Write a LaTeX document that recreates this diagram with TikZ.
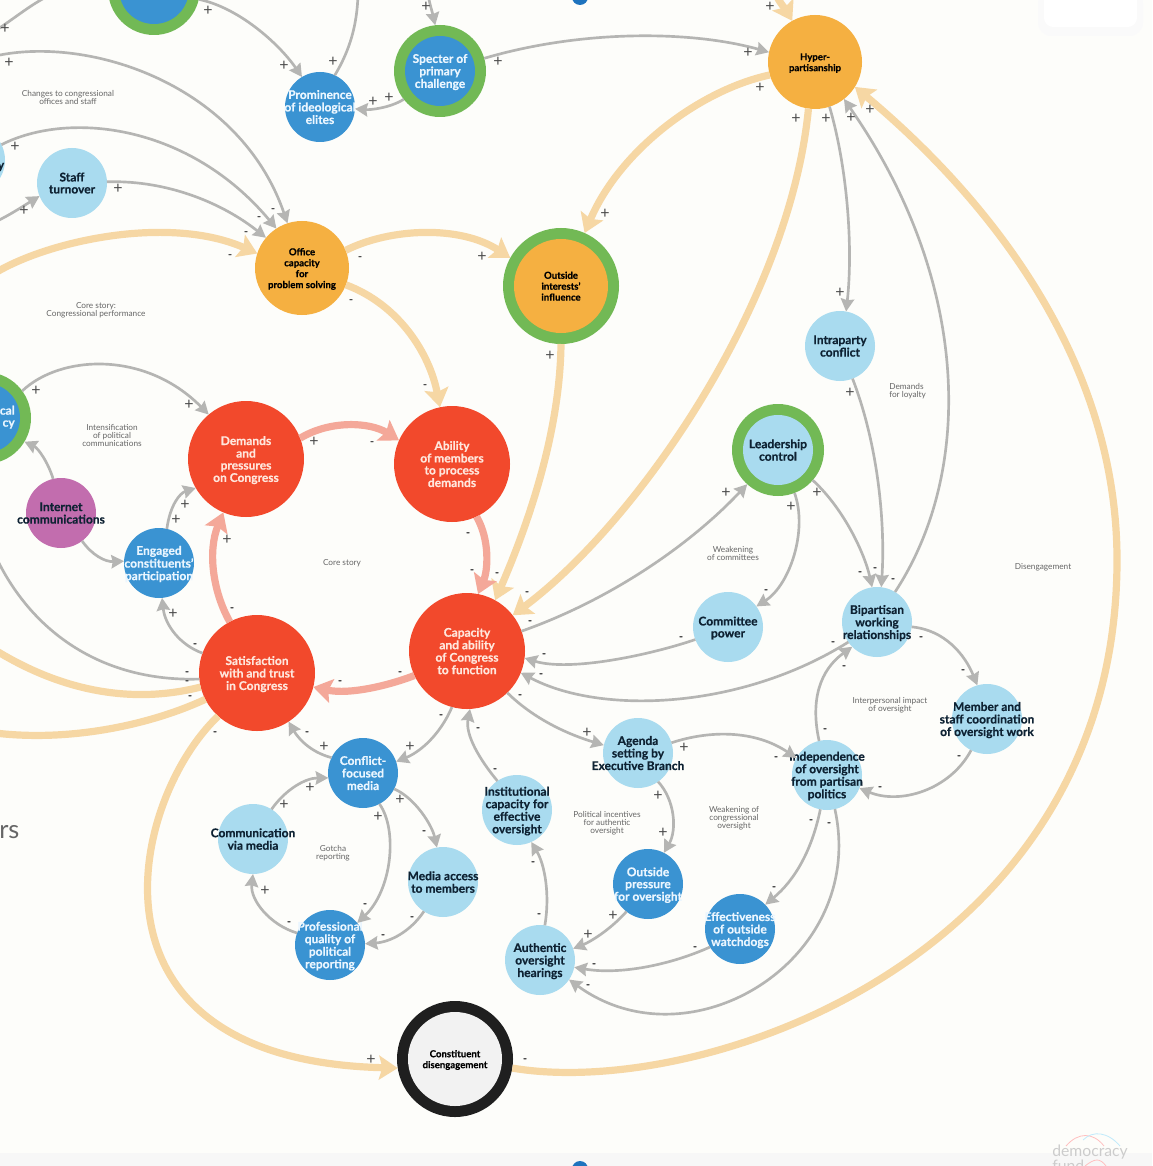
\documentclass[tikz,border=0pt]{standalone}
\usepackage{fontspec}
\setmainfont{Lato}[BoldFeatures={FakeBold=0.5}]
\usetikzlibrary{arrows.meta}
\definecolor{bgc}{HTML}{FDFDFA}
\definecolor{redc}{HTML}{F2492C}
\definecolor{orangec}{HTML}{F5B041}
\definecolor{lightc}{HTML}{A9DBEF}
\definecolor{bluec}{HTML}{3A93D2}
\definecolor{greenc}{HTML}{72B955}
\definecolor{purplec}{HTML}{C26DAE}
\definecolor{grayc}{HTML}{B5B5B3}
\definecolor{tanc}{HTML}{F6D7A4}
\definecolor{salmonc}{HTML}{F4A899}
\definecolor{darkc}{HTML}{0E2233}
\definecolor{lighttxt}{HTML}{EAF6FF}
\definecolor{redtxt}{HTML}{FFE6DC}
\definecolor{dotc}{HTML}{1E73BE}
\newcommand\ntxt[1]{\makebox[0pt]{\smash{\raisebox{-.4em}{\begin{tabular}{@{}c@{}}#1\end{tabular}}}}}
\newcommand\bigt{\fontsize{9}{9}\selectfont\bfseries}
\newcommand\smallt{\fontsize{7.2}{8.2}\selectfont\bfseries}
\newcommand\capt{\fontsize{6.2}{6}\selectfont}
\newcounter{sg}
\newcommand\sg[2]{\stepcounter{sg}\if#2+\def\sgfont{\fontsize{12}{12}\selectfont}\else\def\sgfont{\fontsize{8}{8}\selectfont\bfseries}\fi\node[signlab,font=\sgfont] (sg\arabic{sg}) at (#1) {#2};}
\tikzset{
 base/.style={circle,inner sep=0pt,outer sep=0pt,minimum size=#1*.75pt},
 nlight/.style={base=70,fill=lightc,text=darkc,font=\bigt},
 nblue/.style={base=70,fill=bluec,text=lighttxt,font=\bigt},
 npurple/.style={base=70,fill=purplec,text=darkc,font=\bigt},
 nred/.style={base=116,fill=redc,text=redtxt,font=\bigt},
 norange/.style={base=94,fill=orangec,text=black,font=\smallt},
 ringed/.style 2 args={base=92,fill=greenc,text=#2,font=\bigt,path picture={\fill[#1] (path picture bounding box.center) circle (35*.75pt);}},
 bigring/.style={base=116,fill=greenc,text=black,font=\smallt,path picture={\fill[orangec] (path picture bounding box.center) circle (47*.75pt);}},
 blackring/.style={base=116,fill=black!88,text=black,font=\smallt,path picture={\fill[black!5] (path picture bounding box.center) circle (47*.75pt);}},
 gl/.style={draw=grayc,line width=2pt,-{Stealth[length=9.5pt,width=10pt,inset=1pt]}},
 glp/.style={draw=grayc,line width=2pt},
 tl/.style={draw=tanc,line width=5.4pt,-{Stealth[length=14pt,width=18pt,inset=2.5pt]}},
 tlp/.style={draw=tanc,line width=5.4pt},
 sl/.style={draw=salmonc,line width=5.4pt,-{Stealth[length=14pt,width=18pt,inset=2.5pt]}},
 signlab/.style={inner sep=0pt,text=black!70},
 captxt/.style={inner sep=0pt,align=center,text=black!60,font=\capt},
}
\begin{document}
\begin{tikzpicture}[x=.75pt,y=-.75pt]
\clip (0,0) rectangle (1152,1166);
\fill[bgc] (0,0) rectangle (1152,1166);
\fill[black!3] (0,1153) rectangle (1152,1166);
% window furniture
\fill[black!2,rounded corners=10pt] (1038,-10) rectangle (1143,36);
\fill[white,rounded corners=7pt] (1044,-10) rectangle (1137,27);
\node[circle,fill=dotc,minimum size=12pt,inner sep=0pt] (dottop) at (580,-3) {};
\node[circle,fill=dotc,minimum size=12pt,inner sep=0pt] (dotbot) at (580,1169) {};
% free ends
\coordinate (f1) at (-5,56); \coordinate (f2) at (-5,222); \coordinate (f3) at (358,-5);
\coordinate (f4) at (428,-5); \coordinate (f5) at (776,-5); \coordinate (f6) at (-5,273);
\coordinate (f7) at (-5,555); \coordinate (f8) at (-5,650); \coordinate (f9) at (-5,733);
\coordinate (f10) at (-5,31); \coordinate (f11) at (50,-5);
% nodes
\node[ringed={bluec}{lighttxt}] (topn) at (154,-11) {};
\node[nblue] (prom) at (320,107) {\ntxt{Prominence\\of ideological\\elites}};
\node[ringed={bluec}{lighttxt}] (spec) at (440,71) {\ntxt{Specter of\\primary\\challenge}};
\node[norange] (hyper) at (815,62) {\ntxt{Hyper-\\partisanship}};
\node[nlight] (lefttop) at (-30,160) {};
\node[nlight] (staff) at (72,183) {\ntxt{Staff\\turnover}};
\node[norange] (office) at (302,268) {\ntxt{Office\\capacity\\for\\problem solving}};
\node[bigring] (outint) at (561,286) {\ntxt{Outside\\interests'\\influence}};
\node[nlight] (intra) at (840,346) {\ntxt{Intraparty\\conflict}};
\node[ringed={lightc}{darkc}] (lead) at (778,450) {\ntxt{Leadership\\control}};
\node[nred] (dem) at (246,459) {\ntxt{Demands\\and\\pressures\\on Congress}};
\node[nred] (abil) at (452,464) {\ntxt{Ability\\of members\\to process\\demands}};
\node[nred] (cap) at (467,651) {\ntxt{Capacity\\and ability\\of Congress\\to function}};
\node[nred] (sat) at (257,673) {\ntxt{Satisfaction\\with and trust\\in Congress}};
\node[ringed={bluec}{lighttxt}] (leftpol) at (-15,418) {};
\node[npurple] (inet) at (61,513) {\ntxt{Internet\\communications}};
\node[nblue] (eng) at (159,563) {\ntxt{Engaged\\constituents'\\participation}};
\node[nblue] (conf) at (363,773) {\ntxt{Conflict-\\focused\\media}};
\node[nlight] (comm) at (253,839) {\ntxt{Communication\\via media}};
\node[nlight] (macc) at (443,882) {\ntxt{Media access\\to members}};
\node[nblue] (prof) at (330,945) {\ntxt{Professional\\quality of\\political\\reporting}};
\node[nlight] (inst) at (517,810) {\ntxt{Institutional\\capacity for\\effective\\oversight}};
\node[nlight] (agen) at (638,753) {\ntxt{Agenda\\setting by\\Executive Branch}};
\node[nblue] (outp) at (648,884) {\ntxt{Outside\\pressure\\for oversight}};
\node[nblue] (eff) at (740,929) {\ntxt{Effectiveness\\of outside\\watchdogs}};
\node[nlight] (auth) at (540,960) {\ntxt{Authentic\\oversight\\hearings}};
\node[nlight] (indep) at (827,775) {\ntxt{Independence\\of oversight\\from partisan\\politics}};
\node[nlight] (cpow) at (728,627) {\ntxt{Committee\\power}};
\node[nlight] (bip) at (877,622) {\ntxt{Bipartisan\\working\\relationships}};
\node[nlight] (memb) at (987,719) {\ntxt{Member and\\staff coordination\\of oversight work}};
\node[blackring] (cons) at (455,1059) {\ntxt{Constituent\\disengagement}};
\node[inner sep=0pt,text=lighttxt,font=\bigt,anchor=east] (leftpoltxt) at (15,418) {\begin{tabular}{@{}r@{}}cal\\cy\end{tabular}};
\node[inner sep=0pt,text=darkc,font=\bigt] (lefttoptxt) at (1,167) {y};
% tan
\draw[tl] (f5) .. controls (780,3) and (786,10) .. (hyper.119);
\draw[tl] (hyper.196) .. controls (700,90) and (620,150) .. (outint.66);
\draw[tl] (hyper.262) .. controls (790,300) and (640,520) .. (cap.38);
\draw[tl] (outint.-90) .. controls (560,430) and (530,520) .. (cap.61);
\draw[tl] (cons.-9) .. controls (700,1100) and (1117,960) .. (1117,560) .. controls (1117,360) and (990,200) .. (hyper.-32);
\draw[tl] (sat.228) .. controls (130,800) and (70,1060) .. (cons.189);
\draw[tl] (f6) .. controls (50,240) and (170,215) .. (office.162);
\draw[tl] (office.22) .. controls (390,228) and (460,225) .. (outint.151);
\draw[tl] (office.-21) .. controls (400,305) and (430,355) .. (abil.102);
\draw[tlp] (sat.194) .. controls (130,705) and (60,690) .. (f8);
\draw[tlp] (sat.207) .. controls (150,725) and (70,742) .. (f9);
% salmon
\draw[sl] (dem.21) .. controls (330,420) and (370,422) .. (abil.156);
\draw[sl] (abil.-65) .. controls (490,540) and (488,570) .. (cap.79);
\draw[sl] (cap.205) .. controls (390,685) and (350,695) .. (sat.-14);
\draw[sl] (sat.118) .. controls (212,590) and (208,550) .. (dem.247);
% gray
\draw[gl] (topn.-13) .. controls (240,8) and (280,45) .. (prom.121);
\draw[glp] (prom.65) .. controls (350,50) and (357,25) .. (f3);
\draw[gl] (f4) .. controls (430,5) and (433,15) .. (spec.96);
\draw[gl] (spec.218) .. controls (390,108) and (370,110) .. (prom.-3);
\draw[gl] (spec.16) .. controls (580,30) and (690,30) .. (hyper.168);
\draw[gl] (hyper.-72) .. controls (848,170) and (853,250) .. (intra.80);
\draw[gl] (bip.59) .. controls (975,470) and (970,280) .. (hyper.-52);
\draw[glp] (sat.186) .. controls (100,682) and (30,630) .. (f7);
\draw[gl] (sat.160) .. controls (180,645) and (165,625) .. (eng.-85);
\draw[gl] (eng.77) .. controls (170,505) and (180,493) .. (dem.210);
\draw[gl] (inet.-53) .. controls (92,555) and (105,562) .. (eng.177);
\draw[gl] (inet.103) .. controls (48,462) and (38,448) .. (leftpol.-31);
\draw[gl] (leftpol.36) .. controls (60,355) and (145,350) .. (dem.130);
\draw[gl] (staff.2) .. controls (170,180) and (225,205) .. (office.140);
\draw[gl] (lefttop.26) .. controls (70,110) and (190,125) .. (office.123);
\draw[gl] (f1) .. controls (90,35) and (240,85) .. (office.108);
\draw[glp] (f10) .. controls (15,18) and (30,5) .. (f11);
\draw[gl] (f2) .. controls (10,215) and (25,205) .. (staff.202);
\draw[gl] (cap.20) .. controls (610,600) and (690,545) .. (lead.228);
\draw[gl] (cpow.201) .. controls (650,655) and (570,672) .. (cap.-7);
\draw[gl] (bip.215) .. controls (740,710) and (600,715) .. (cap.-22);
\draw[gl] (lead.-69) .. controls (808,530) and (790,585) .. (cpow.36);
\draw[gl] (lead.-41) .. controls (845,510) and (865,555) .. (bip.98);
\draw[gl] (intra.-69) .. controls (880,450) and (885,530) .. (bip.83);
\draw[gl] (bip.-8) .. controls (945,630) and (965,655) .. (memb.106);
\draw[gl] (memb.243) .. controls (950,790) and (900,805) .. (indep.-22);
\draw[gl] (indep.103) .. controls (810,700) and (820,670) .. (bip.225);
\draw[gl] (agen.17) .. controls (710,730) and (755,730) .. (indep.151);
\draw[gl] (cap.-46) .. controls (535,720) and (570,735) .. (agen.167);
\draw[gl] (cap.255) .. controls (440,735) and (420,752) .. (conf.19);
\draw[gl] (conf.154) .. controls (310,752) and (298,738) .. (sat.-57);
\draw[gl] (comm.58) .. controls (285,790) and (305,778) .. (conf.188);
\draw[gl] (prof.160) .. controls (270,925) and (250,900) .. (comm.-90);
\draw[gl] (conf.-62) .. controls (398,830) and (392,890) .. (prof.39);
\draw[gl] (conf.-27) .. controls (415,798) and (432,825) .. (macc.100);
\draw[gl] (macc.237) .. controls (410,932) and (390,942) .. (prof.2);
\draw[gl] (inst.124) .. controls (480,760) and (465,735) .. (cap.-87);
\draw[gl] (auth.82) .. controls (550,895) and (545,865) .. (inst.-66);
\draw[gl] (agen.-55) .. controls (675,800) and (677,830) .. (outp.63);
\draw[gl] (outp.232) .. controls (610,930) and (590,942) .. (auth.19);
\draw[gl] (eff.211) .. controls (670,965) and (620,975) .. (auth.-12);
\draw[gl] (indep.259) .. controls (812,850) and (795,880) .. (eff.44);
\draw[gl] (indep.-77) .. controls (868,960) and (690,1068) .. (auth.-34);
% signs
\sg{208,11}{+}\sg{284,66}{+}\sg{333,62}{+}\sg{426,7}{+}\sg{389,98}{+}\sg{373,102}{+}
\sg{498,62}{+}\sg{748,53}{+}\sg{770,7}{+}\sg{760,88}{+}\sg{605,214}{+}\sg{796,119}{+}
\sg{527,593}{-}\sg{550,356}{+}\sg{497,574}{-}\sg{826,119}{+}\sg{840,293}{+}\sg{851,118}{+}
\sg{893,580}{-}\sg{870,110}{+}\sg{525,1060}{-}\sg{215,733}{-}\sg{371,1060}{+}\sg{230,256}{-}
\sg{360,258}{-}\sg{482,257}{+}\sg{351,301}{-}\sg{425,386}{-}\sg{314,442}{+}\sg{372,443}{-}
\sg{468,534}{-}\sg{472,571}{-}\sg{400,673}{-}\sg{340,682}{-}\sg{232,609}{-}\sg{227,540}{+}
\sg{187,673}{-}\sg{187,682}{-}\sg{190,697}{-}\sg{195,645}{-}\sg{173,614}{+}\sg{176,520}{+}
\sg{185,505}{+}\sg{36,391}{+}\sg{189,405}{+}\sg{118,189}{+}\sg{246,233}{-}\sg{15,147}{+}
\sg{259,218}{-}\sg{9,63}{+}\sg{273,210}{-}\sg{5,29}{+}\sg{24,211}{+}\sg{530,622}{-}
\sg{726,493}{+}\sg{681,638}{-}\sg{544,655}{-}\sg{833,643}{-}\sg{541,675}{-}\sg{791,507}{+}
\sg{766,591}{-}\sg{817,493}{+}\sg{860,573}{-}\sg{850,393}{+}\sg{875,569}{-}\sg{921,638}{-}
\sg{963,671}{-}\sg{959,757}{-}\sg{880,788}{-}\sg{825,730}{-}\sg{844,667}{-}\sg{684,748}{+}
\sg{776,758}{-}\sg{520,696}{-}\sg{587,733}{+}\sg{441,716}{-}\sg{410,747}{+}\sg{307,733}{-}
\sg{324,747}{+}\sg{284,805}{+}\sg{310,788}{+}\sg{289,923}{-}\sg{265,891}{+}\sg{378,817}{+}
\sg{365,905}{-}\sg{400,800}{+}\sg{424,832}{-}\sg{412,918}{-}\sg{383,936}{-}\sg{478,729}{-}
\sg{495,770}{-}\sg{539,915}{-}\sg{533,863}{-}\sg{658,796}{+}\sg{663,833}{+}\sg{613,916}{+}
\sg{588,935}{+}\sg{695,948}{-}\sg{594,965}{-}\sg{811,821}{-}\sg{774,888}{-}\sg{829,824}{-}
\sg{588,986}{-}
% captions
\node[captxt] (c1) at (68,97) {Changes to congressional\\offices and staff};
\node[captxt] (c2) at (96,310) {Core story:\\Congressional performance};
\node[captxt] (c3) at (112,435) {Intensification\\of political\\communications};
\node[captxt] (c4) at (342,563) {Core story};
\node[captxt] (c5) at (733,553) {Weakening\\of committees};
\node[captxt,align=left,anchor=west] (c6) at (889,391) {Demands\\for loyalty};
\node[captxt] (c7) at (890,705) {Interpersonal impact\\of oversight};
\node[captxt] (c8) at (1043,567) {Disengagement};
\node[captxt] (c9) at (333,853) {Gotcha\\reporting};
\node[captxt] (c10) at (607,823) {Political incentives\\for authentic\\oversight};
\node[captxt] (c11) at (734,818) {Weakening of\\congressional\\oversight};
\node[inner sep=0pt,anchor=base west,text=black!60,font=\fontsize{19}{19}\selectfont] (rs) at (-1,838) {rs};
\draw[red!25,line width=.6pt] (1066,1146) .. controls (1078,1132) and (1093,1132) .. (1104,1146);
\draw[cyan!25,line width=.6pt] (1083,1140) .. controls (1093,1130) and (1108,1132) .. (1120,1146);
\draw[red!25,line width=.6pt] (1085,1166) .. controls (1095,1158) and (1100,1158) .. (1106,1166);
\node[inner sep=0pt,align=left,text=black!20,font=\fontsize{11.8}{11}\selectfont,anchor=west] (logo) at (1052,1158) {democracy\\fund};
\end{tikzpicture}
\end{document}
